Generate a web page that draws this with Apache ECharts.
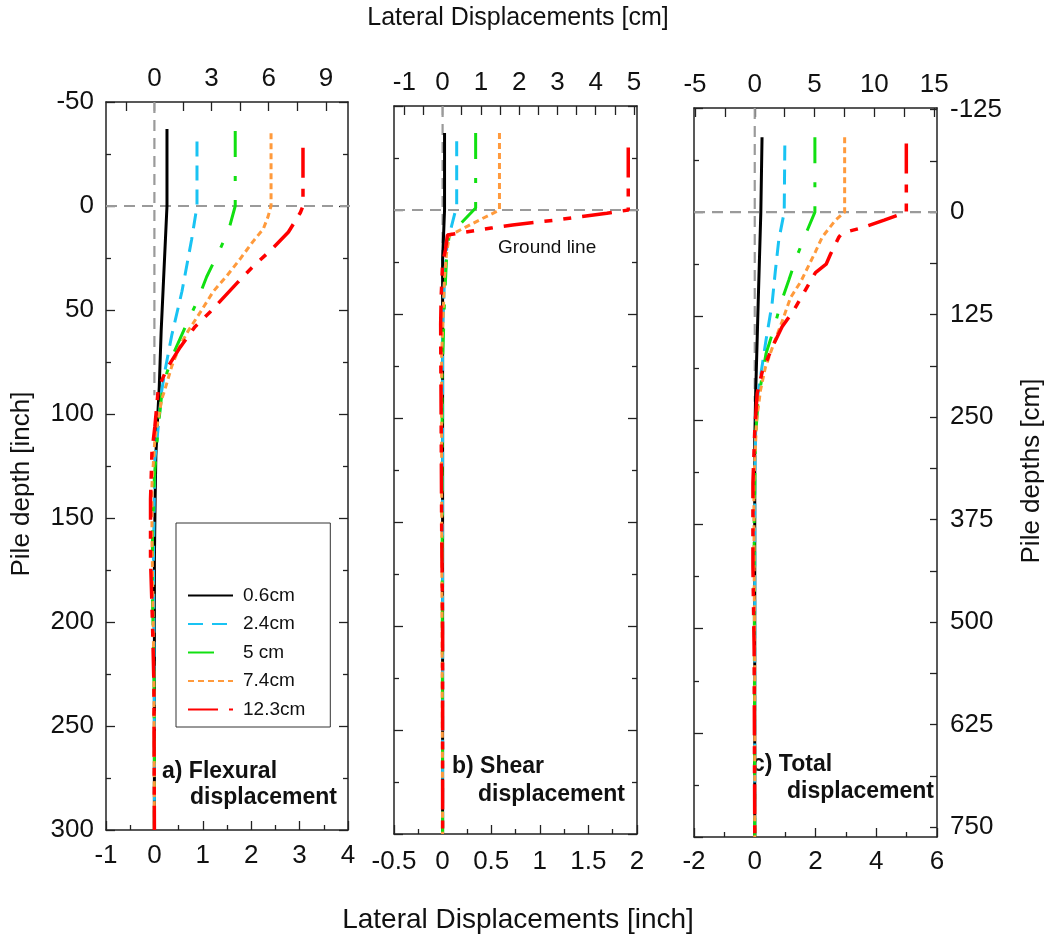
<!DOCTYPE html>
<html><head><meta charset="utf-8">
<script src="https://cdn.jsdelivr.net/npm/echarts@6/dist/echarts.min.js"></script>
<style>html,body{margin:0;padding:0;background:#fff}#c{width:1048px;height:939px}</style>
</head><body><div id="c"></div>
<script>
// ---------------- DATA ----------------
const seriesNames = ['0.6cm', '2.4cm', '5 cm', '7.4cm', '12.3cm'];

// Panel a) Flexural displacement  (x: inch, depth: inch)
const aBlackDepth = [-37, 0, 20, 40, 60, 87, 105, 120, 141, 170, 220, 300];
const aBlackDisp  = [0.26, 0.26, 0.22, 0.18, 0.14, 0.10, 0.06, 0.03, 0.015, 0, 0, 0];
const aBlueDepth  = [-31, 0, 16, 41, 62, 79, 89, 106, 122, 170, 200, 250, 300];
const aBlueDisp   = [0.88, 0.88, 0.77, 0.57, 0.36, 0.22, 0.15, 0.08, 0.01, -0.02, -0.01, 0, 0];
const aGreenDepth = [-36, 0, 12, 24, 34, 46, 57, 69, 80, 91, 106, 130, 160, 190, 220, 260, 300];
const aGreenDisp  = [1.67, 1.67, 1.53, 1.29, 1.08, 0.88, 0.66, 0.43, 0.26, 0.15, 0.08, 0, -0.04, -0.04, -0.01, 0, 0];
const aOrangeDepth = [-35, 0, 5, 11, 17, 25.5, 33.5, 41, 51, 60, 67, 77, 88, 93, 112, 134, 160, 190, 230, 300];
const aOrangeDisp  = [2.41, 2.41, 2.35, 2.25, 2.04, 1.77, 1.50, 1.22, 0.95, 0.70, 0.53, 0.36, 0.22, 0.15, 0.01, -0.05, -0.05, -0.03, -0.01, 0];
const aRedDepth = [-28, 0, 3, 12.5, 20.7, 29, 36.5, 51, 58, 68, 78, 88, 106, 118, 141, 170, 200, 230, 300];
const aRedDisp  = [3.07, 3.07, 3.02, 2.77, 2.43, 2.04, 1.73, 1.15, 0.84, 0.53, 0.26, 0.08, 0.01, -0.05, -0.08, -0.08, -0.04, -0.01, 0];

// Panel b) Shear displacement
const bBlackDepth = [-37, 0, 24, 60, 300];
const bBlackDisp  = [0.02, 0.02, 0.0, 0.0, 0.0];
const bBlueDepth  = [-33, -2, 8.7, 12, 20.7, 32, 60, 300];
const bBlueDisp   = [0.145, 0.145, 0.087, 0.05, 0.04, 0.02, 0.0, 0.0];
const bGreenDepth = [-37, -1, 8, 11, 24, 43, 80, 130, 300];
const bGreenDisp  = [0.34, 0.34, 0.155, 0.07, 0.04, 0.02, -0.005, -0.005, 0.0];
const bOrangeDepth = [-37, 0, 4.8, 10.6, 12, 21, 32, 70, 130, 300];
const bOrangeDisp  = [0.585, 0.585, 0.38, 0.14, 0.07, 0.04, 0.02, -0.01, -0.01, 0.0];
const bRedDepth = [-30, 0, 1.6, 4.8, 7.2, 8.7, 10.6, 12, 19, 25.5, 42, 55, 100, 150, 200, 300];
const bRedDisp  = [1.91, 1.91, 1.69, 1.17, 0.72, 0.50, 0.24, 0.05, 0.03, 0.0, -0.015, -0.02, -0.015, -0.01, 0.0, 0.0];

// Panel c) Total displacement
const cBlackDepth = [-36, 0, 40, 87, 110, 300];
const cBlackDisp  = [0.24, 0.20, 0.12, 0.03, 0.0, 0.0];
const cBlueDepth  = [-32, 0, 13.5, 28, 44, 61.5, 76, 87, 105, 130, 300];
const cBlueDisp   = [0.99, 0.97, 0.79, 0.68, 0.57, 0.37, 0.22, 0.11, 0.03, 0.0, 0.0];
const cGreenDepth = [-36, 0, 8.7, 20.7, 32.7, 44, 56, 68, 79, 92, 110, 150, 300];
const cGreenDisp  = [1.98, 1.98, 1.73, 1.40, 1.12, 0.85, 0.63, 0.37, 0.24, 0.10, 0.02, -0.02, 0.0];
const cOrangeDepth = [-36, 0, 3.8, 12, 19, 25.5, 33.5, 41, 52.5, 63, 74.5, 85.5, 100, 130, 170, 220, 300];
const cOrangeDisp  = [2.96, 2.96, 2.66, 2.22, 2.0, 1.78, 1.51, 1.18, 0.90, 0.63, 0.35, 0.19, 0.06, -0.03, -0.02, 0.0, 0.0];
const cRedDepth = [-33, 0, 3.8, 7.7, 10, 12, 20, 25, 29, 47, 55, 65, 77, 87, 105, 130, 170, 210, 300];
const cRedDisp  = [4.99, 4.99, 4.26, 3.49, 2.88, 2.77, 2.5, 2.35, 2.0, 1.29, 0.90, 0.57, 0.24, 0.08, 0.0, -0.06, -0.06, -0.02, 0.0];

// Reference lines (zero displacement & ground line), inch
const zeroLineDepth = [-50, 91];
const groundLineA = [-1, 4.08];
const groundLineB = [-0.5, 2.05];
const groundLineC = [-2, 6];

// Tick labels
const leftDepthTicksInch = { min: -50, max: 300, interval: 50 };
const rightDepthLabelsCm = [-125, 0, 125, 250, 375, 500, 625, 750];
const rightDepthTicksCm = [-125, -62.5, 0, 62.5, 125, 187.5, 250, 312.5, 375, 437.5, 500, 562.5, 625, 687.5, 750];
const topLabelsA = [0, 3, 6, 9];
const topTicksA = [-1.5, 0, 1.5, 3, 4.5, 6, 7.5, 9];
const topLabelsB = [-1, 0, 1, 2, 3, 4, 5];
const topTicksB = [-1, -0.5, 0, 0.5, 1, 1.5, 2, 2.5, 3, 3.5, 4, 4.5, 5];
const topLabelsC = [-5, 0, 5, 10, 15];
const topTicksC = [-5, -2.5, 0, 2.5, 5, 7.5, 10, 12.5, 15];

// ---------------- STYLE ----------------
const FONT = "'Liberation Sans', Arial, sans-serif";
const CM = 2.54;
const lineStyles = [
  { color: '#000000', width: 3, type: 'solid' },
  { color: '#19C3F3', width: 3, type: [15, 9] },
  { color: '#11E011', width: 3, type: [26, 19, 5, 19] },
  { color: '#FF9A3C', width: 3, type: [6, 4] },
  { color: '#FF0000', width: 3.5, type: [30, 11, 8, 11, 8, 11] }
];
const pairs = (d, x) => x.map((v, i) => [v, d[i]]);

const panels = [
  [[aBlackDepth, aBlackDisp], [aBlueDepth, aBlueDisp], [aGreenDepth, aGreenDisp], [aOrangeDepth, aOrangeDisp], [aRedDepth, aRedDisp]],
  [[bBlackDepth, bBlackDisp], [bBlueDepth, bBlueDisp], [bGreenDepth, bGreenDisp], [bOrangeDepth, bOrangeDisp], [bRedDepth, bRedDisp]],
  [[cBlackDepth, cBlackDisp], [cBlueDepth, cBlueDisp], [cGreenDepth, cGreenDisp], [cOrangeDepth, cOrangeDisp], [cRedDepth, cRedDisp]]
];
const groundLines = [groundLineA, groundLineB, groundLineC];

const axisLineStyle = { show: true, onZero: false, lineStyle: { color: '#222', width: 1.5 } };
const tickStyle = { color: '#222', width: 1.3 };
const labelStyle = { fontSize: 26, color: '#111', fontFamily: FONT };

function bottomAxis(gi, min, max, interval, margin) {
  return {
    type: 'value', gridIndex: gi, position: 'bottom', min, max, interval,
    axisLine: axisLineStyle,
    axisTick: { show: true, inside: true, length: 9, lineStyle: tickStyle },
    minorTick: { show: true, splitNumber: 2, length: 5, lineStyle: tickStyle },
    axisLabel: Object.assign({ margin }, labelStyle),
    splitLine: { show: false }
  };
}
function topAxis(gi, minInch, maxInch, labels, ticks) {
  return {
    type: 'value', gridIndex: gi, position: 'top', min: minInch * CM, max: maxInch * CM,
    axisLine: axisLineStyle,
    axisTick: { show: true, inside: true, length: 9, lineStyle: tickStyle, customValues: ticks },
    axisLabel: Object.assign({ margin: 10, customValues: labels }, labelStyle),
    splitLine: { show: false }
  };
}
function depthAxis(gi, pos, showLabels) {
  return {
    type: 'value', gridIndex: gi, position: pos, inverse: true,
    min: leftDepthTicksInch.min, max: leftDepthTicksInch.max, interval: leftDepthTicksInch.interval,
    axisLine: axisLineStyle,
    axisTick: { show: true, inside: true, length: 9, lineStyle: tickStyle },
    minorTick: { show: true, splitNumber: 2, length: 5, lineStyle: tickStyle },
    axisLabel: Object.assign({ show: showLabels, margin: 12 }, labelStyle),
    splitLine: { show: false }
  };
}

const grids = [
  { left: 106, top: 102, width: 242, height: 728 },
  { left: 394, top: 106, width: 243, height: 728 },
  { left: 694, top: 108, width: 243, height: 729 }
];

const xAxes = [
  bottomAxis(0, -1, 4, 1, 13), topAxis(0, -1, 4, topLabelsA, topTicksA),
  bottomAxis(1, -0.5, 2, 0.5, 15), topAxis(1, -0.5, 2, topLabelsB, topTicksB),
  bottomAxis(2, -2, 6, 2, 12), topAxis(2, -2, 6, topLabelsC, topTicksC)
];

const yAxes = [
  depthAxis(0, 'left', true), depthAxis(0, 'right', false),
  depthAxis(1, 'left', false), depthAxis(1, 'right', false),
  depthAxis(2, 'left', false),
  {
    type: 'value', gridIndex: 2, position: 'right', inverse: true,
    min: leftDepthTicksInch.min * CM, max: leftDepthTicksInch.max * CM,
    axisLine: axisLineStyle,
    axisTick: { show: true, inside: true, length: 7, lineStyle: tickStyle, customValues: rightDepthTicksCm },
    axisLabel: Object.assign({ margin: 13, customValues: rightDepthLabelsCm }, labelStyle),
    splitLine: { show: false }
  }
];

const series = [];
const refStyle = { color: '#9a9a9a', width: 2.2, type: [11, 7] };
panels.forEach((panel, p) => {
  const xi = p * 2, yi = p * 2;
  series.push({
    type: 'line', name: 'zero', xAxisIndex: xi, yAxisIndex: yi, symbol: 'none', silent: true,
    data: zeroLineDepth.map(d => [0, d]), lineStyle: refStyle, z: 1
  });
  series.push({
    type: 'line', name: 'ground', xAxisIndex: xi, yAxisIndex: yi, symbol: 'none', silent: true, clip: false,
    data: groundLines[p].map(x => [x, 0]), lineStyle: refStyle, z: 1
  });
  panel.forEach((s, k) => {
    series.push({
      type: 'line', name: seriesNames[k], xAxisIndex: xi, yAxisIndex: yi,
      symbol: 'none', showSymbol: false, data: pairs(s[0], s[1]),
      lineStyle: Object.assign({ cap: 'butt' }, lineStyles[k]),
      itemStyle: { color: lineStyles[k].color }, z: 2 + k
    });
  });
});

const txt = (x, y, text, opts) => ({
  type: 'text', x, y, silent: true,
  style: Object.assign({ text, fill: '#111', font: `25px ${FONT}`, textAlign: 'center', textVerticalAlign: 'middle' }, opts || {})
});

const option = {
  backgroundColor: '#ffffff',
  animation: false,
  grid: grids,
  xAxis: xAxes,
  yAxis: yAxes,
  series,
  legend: {
    data: seriesNames, orient: 'vertical', left: 176, top: 523,
    padding: [63, 25, 8, 11], itemGap: 9.5, itemWidth: 45, itemHeight: 14,
    borderColor: '#333', borderWidth: 1, backgroundColor: '#fff',
    itemStyle: { opacity: 0 },
    textStyle: { fontSize: 19, lineHeight: 19, color: '#111', fontFamily: FONT, padding: [0, 0, 0, 5] },
    selectedMode: false
  },
  graphic: [
    txt(518, 18, 'Lateral Displacements [cm]'),
    txt(518, 920, 'Lateral Displacements [inch]', { font: `28px ${FONT}` }),
    Object.assign(txt(22, 484, 'Pile depth [inch]', { font: `26px ${FONT}` }), { rotation: Math.PI / 2 }),
    Object.assign(txt(1032, 471, 'Pile depths [cm]', { font: `26px ${FONT}` }), { rotation: Math.PI / 2 }),
    txt(253, 548, 'Lat. Top Displ.', { font: `19px ${FONT}` }),
    txt(498, 248, 'Ground line', { font: `19px ${FONT}`, textAlign: 'left' }),
    txt(162, 772, 'a) Flexural', { font: `bold 23px ${FONT}`, textAlign: 'left' }),
    txt(190, 798, 'displacement', { font: `bold 23px ${FONT}`, textAlign: 'left' }),
    txt(452, 767, 'b) Shear', { font: `bold 23px ${FONT}`, textAlign: 'left' }),
    txt(478, 795, 'displacement', { font: `bold 23px ${FONT}`, textAlign: 'left' }),
    txt(752, 765, 'c) Total', { font: `bold 23px ${FONT}`, textAlign: 'left' }),
    txt(787, 792, 'displacement', { font: `bold 23px ${FONT}`, textAlign: 'left' })
  ]
};

const chart = echarts.init(document.getElementById('c'), null, { renderer: 'canvas' });
chart.setOption(option);
</script>
</body></html>
